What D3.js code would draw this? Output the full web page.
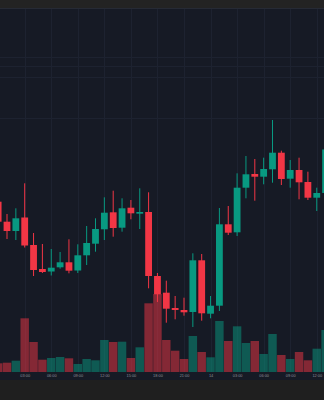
<!DOCTYPE html>
<html>
<head>
<meta charset="utf-8">
<script src="https://cdn.jsdelivr.net/npm/d3@7"></script>
<style>
html, body { margin: 0; padding: 0; background: #1f1f1f; overflow: hidden; }
svg { display: block; }
</style>
</head>
<body>
<svg id="chart"></svg>
<script>
// Hourly candles, 13th 00:00 to 14th 13:00
const startTime = new Date(2024, 2, 13, 0, 0);
const times = d3.timeHour.range(startTime, d3.timeHour.offset(startTime, 38));

const open  = [109.83,107.83,106.90,108.25,105.50,103.10,102.85,103.27,103.77,102.95,
               104.47,105.63,107.07,108.77,107.23,109.23,108.63,108.80,102.40,100.73,
               99.20,99.00,98.80,103.97,98.63,99.43,107.57,106.77,111.23,112.60,
               112.33,113.07,114.73,112.13,113.00,111.80,110.23,110.70];
const high  = [110.40,108.60,109.17,111.67,106.70,105.60,105.10,104.80,106.07,105.57,
               107.40,108.17,110.27,110.93,110.17,110.00,111.17,110.77,102.70,101.93,
               100.40,100.23,104.67,104.60,100.40,109.20,109.40,112.67,114.40,114.10,
               114.23,118.00,114.93,114.00,114.23,112.83,111.23,115.50];
const low   = [107.50,106.10,106.00,105.25,102.40,102.70,102.45,103.13,102.67,102.70,
               103.50,104.83,106.00,106.33,106.83,108.07,107.10,101.17,99.80,97.73,
               98.07,98.43,97.30,97.93,98.17,98.90,106.50,106.40,110.17,109.93,
               111.57,111.73,111.50,111.23,110.07,110.00,108.90,110.50];
const close = [107.83,106.90,108.17,105.45,103.00,102.80,103.23,103.77,102.93,104.47,
               105.70,107.10,108.73,107.20,109.17,108.67,108.80,102.40,100.57,99.13,
               99.00,98.77,103.97,98.67,99.43,107.57,106.73,111.23,112.57,112.33,
               113.10,114.73,112.10,113.00,111.77,110.23,110.70,115.05];
const volume = [435,465,565,2685,1500,615,700,750,685,400,
                650,585,1600,1500,1515,700,1235,3435,3900,1600,
                1065,650,1800,1000,735,2550,1550,2285,1450,1550,
                900,1900,850,650,1000,585,1165,2100];
// horizontal grid levels seen in the picture
const gridPrices = [118.2, 122.3, 123.4, 124.3];

const width = 324, height = 400;
const paneTop = 8, paneBottom = 372, axisBottom = 380;
const upColor = "#089981", downColor = "#f23645";
const upVol = "rgba(8,153,129,0.5)", downVol = "rgba(242,54,69,0.5)";

const svg = d3.select("#chart").attr("width", width).attr("height", height);

// backgrounds
svg.append("rect").attr("width", width).attr("height", height).attr("fill", "#1f1f1f");
svg.append("rect").attr("width", width).attr("height", paneTop).attr("fill", "#232323");
svg.append("rect").attr("y", paneTop).attr("width", width).attr("height", axisBottom - paneTop).attr("fill", "#161a25");
svg.append("line").attr("x1", 0).attr("x2", width).attr("y1", paneTop + 0.5).attr("y2", paneTop + 0.5)
    .attr("stroke", "#262a35");

// scales
const step = 8.85;
const x = d3.scaleTime()
    .domain([times[0], times[times.length - 1]])
    .range([-1.85, -1.85 + step * (times.length - 1)]);
const y = d3.scaleLinear().domain([95, 125]).range([350, 50]);
const v = d3.scaleLinear().domain([0, 4000]).range([paneBottom, paneBottom - 80]);

const data = times.map((t, i) => ({
    t, o: open[i], h: high[i], l: low[i], c: close[i], vol: volume[i], up: close[i] >= open[i]
}));

// grid
const tickTimes = times.filter(t => t.getHours() % 3 === 0 && x(t) > 5);
const grid = svg.append("g").attr("stroke", "#1d2230").attr("stroke-width", 1);
grid.selectAll("line.v").data(tickTimes).enter().append("line")
    .attr("x1", d => Math.round(x(d)) + 0.5).attr("x2", d => Math.round(x(d)) + 0.5)
    .attr("y1", paneTop + 1).attr("y2", paneBottom);
grid.selectAll("line.h").data(gridPrices).enter().append("line")
    .attr("x1", 0).attr("x2", width)
    .attr("y1", d => Math.round(y(d)) + 0.5).attr("y2", d => Math.round(y(d)) + 0.5);

// volume histogram
svg.append("g").selectAll("rect").data(data).enter().append("rect")
    .attr("x", d => x(d.t) - step / 2 + 0.2)
    .attr("width", step - 0.4)
    .attr("y", d => v(d.vol))
    .attr("height", d => paneBottom - v(d.vol))
    .attr("fill", d => d.up ? upVol : downVol);

// candles
const candles = svg.append("g").selectAll("g").data(data).enter().append("g");
candles.append("line")
    .attr("x1", d => x(d.t)).attr("x2", d => x(d.t))
    .attr("y1", d => y(d.h)).attr("y2", d => y(d.l))
    .attr("stroke", d => d.up ? upColor : downColor)
    .attr("stroke-width", 1);
candles.append("rect")
    .attr("x", d => x(d.t) - 3.4)
    .attr("width", 6.8)
    .attr("y", d => y(Math.max(d.o, d.c)))
    .attr("height", d => Math.max(1, Math.abs(y(d.o) - y(d.c))))
    .attr("fill", d => d.up ? upColor : downColor);

// time axis
const axis = d3.axisBottom(x)
    .tickValues(tickTimes)
    .tickSize(0)
    .tickPadding(0)
    .tickFormat(d => d.getHours() === 0 ? d3.timeFormat("%-d")(d) : d3.timeFormat("%H:%M")(d));
const ax = svg.append("g").attr("transform", `translate(0,${paneBottom})`).call(axis);
ax.select(".domain").remove();
ax.selectAll("text")
    .attr("y", 3.8)
    .attr("dy", "0.32em")
    .attr("fill", "#8c8f99")
    .style("font-family", "Liberation Sans, Arial, sans-serif")
    .style("font-size", "3.9px");
</script>
</body>
</html>
